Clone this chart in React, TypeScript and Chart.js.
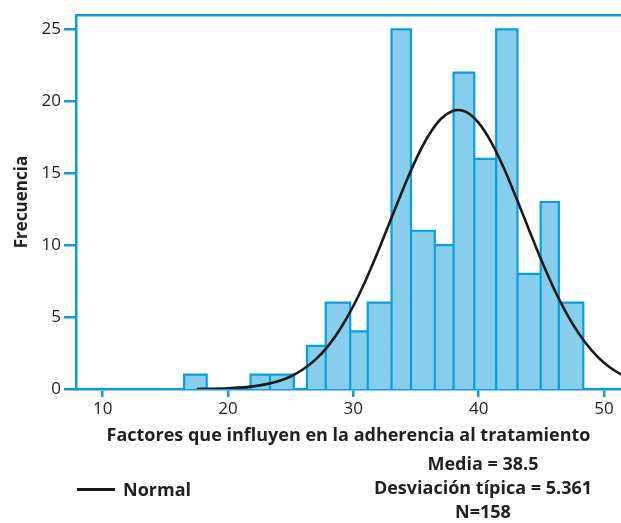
import React, { useEffect, useRef } from "react";
import { Chart, registerables } from "chart.js";

Chart.register(...registerables);

// Histogram bins
const binStart = [16.5, 21.8, 23.35, 26.3, 27.8, 29.75, 31.15, 33.05, 34.6, 36.5, 38.0, 39.65, 41.4, 43.1, 44.95, 46.4];
const binEnd = [18.3, 23.35, 25.25, 27.8, 29.75, 31.15, 33.05, 34.6, 36.5, 38.0, 39.65, 41.4, 43.1, 44.95, 46.4, 48.35];
const counts = [1, 1, 1, 3, 6, 4, 6, 25, 11, 10, 22, 16, 25, 8, 13, 6];

// Normal curve
const normalX = [17.5, 18, 20, 22, 24, 25, 26, 27, 28, 29, 30, 31, 32, 33, 34, 35, 36, 37, 38, 38.35, 39, 40, 41, 42, 43, 44, 45, 46, 47, 48, 49, 50, 51, 52];
const normalY = [0, 0.01, 0.05, 0.18, 0.54, 0.87, 1.37, 2.06, 3.0, 4.24, 5.77, 7.58, 9.62, 11.8, 13.96, 15.96, 17.62, 18.79, 19.36, 19.4, 19.26, 18.5, 17.17, 15.38, 13.29, 11.11, 8.96, 6.99, 5.28, 3.85, 2.7, 1.83, 1.2, 0.76];

const xTicks = [10, 20, 30, 40, 50];
const yTicks = [0, 5, 10, 15, 20, 25];

const xTitle = "Factores que influyen en la adherencia al tratamiento";
const yTitle = "Frecuencia";
const legendLabel = "Normal";
const statLines = ["Media = 38.5", "Desviación típica = 5.361", "N=158"];

const X_MIN = 7.87;
const X_MAX = 51.36;
const Y_MIN = 0;
const Y_MAX = 26;

const BLUE = "#0a9fdc";
const FILL = "#87ceec";
const TEXT = "#231f20";
const FONT = "'Open Sans', sans-serif";

export default function App() {
  const ref = useRef<HTMLCanvasElement | null>(null);

  useEffect(() => {
    const canvas = ref.current;
    if (!canvas) return;

    const histPoints: { x: number; y: number }[] = [];
    for (let i = 0; i < counts.length; i++) {
      histPoints.push({ x: binStart[i], y: 0 });
      histPoints.push({ x: binStart[i], y: counts[i] });
      histPoints.push({ x: binEnd[i], y: counts[i] });
      histPoints.push({ x: binEnd[i], y: 0 });
    }
    const curvePoints = normalX.map((x, i) => ({ x, y: normalY[i] }));

    const chart = new Chart(canvas, {
      type: "line",
      data: {
        datasets: [
          {
            label: "Histograma",
            data: histPoints,
            order: 2,
            xAxisID: "x",
            yAxisID: "y",
            borderColor: BLUE,
            backgroundColor: FILL,
            borderWidth: 2.2,
            borderJoinStyle: "miter",
            fill: "origin",
            pointRadius: 0,
            tension: 0,
          },
          {
            label: legendLabel,
            data: curvePoints,
            order: 1,
            xAxisID: "x",
            yAxisID: "y",
            borderColor: "#1a1a1a",
            borderWidth: 2.6,
            fill: false,
            pointRadius: 0,
            cubicInterpolationMode: "monotone",
          },
        ],
      },
      options: {
        animation: false,
        responsive: false,
        events: [],
        layout: { padding: { top: 15, left: 0, right: 0, bottom: 72 } },
        plugins: {
          legend: { display: false },
          tooltip: { enabled: false },
        },
        scales: {
          x: {
            type: "linear",
            position: "bottom",
            min: X_MIN,
            max: X_MAX,
            afterFit: (s: any) => {
              s.height = 62;
            },
            afterBuildTicks: (s: any) => {
              s.ticks = xTicks.map((v) => ({ value: v }));
            },
            ticks: {
              color: TEXT,
              font: { family: FONT, size: 17 },
              padding: 2,
              maxRotation: 0,
              includeBounds: false,
            },
            grid: {
              drawOnChartArea: false,
              drawTicks: true,
              tickLength: 8,
              color: BLUE,
              lineWidth: 2.5,
            },
            border: { display: true, color: BLUE, width: 2.5 },
            title: {
              display: true,
              text: xTitle,
              color: TEXT,
              font: { family: FONT, size: 18, weight: "bold" },
              padding: { top: 4, bottom: 4 },
            },
          },
          x2: {
            type: "linear",
            position: "top",
            min: X_MIN,
            max: X_MAX,
            afterFit: (s: any) => {
              s.height = 0;
            },
            ticks: { display: false },
            grid: { display: false, drawTicks: false },
            border: { display: true, color: BLUE, width: 2.5 },
          },
          y: {
            type: "linear",
            position: "left",
            min: Y_MIN,
            max: Y_MAX,
            afterFit: (s: any) => {
              s.width = 76;
            },
            afterBuildTicks: (s: any) => {
              s.ticks = yTicks.map((v) => ({ value: v }));
            },
            ticks: {
              color: TEXT,
              font: { family: FONT, size: 17 },
              padding: 3,
              includeBounds: false,
            },
            grid: {
              drawOnChartArea: false,
              drawTicks: true,
              tickLength: 12,
              color: BLUE,
              lineWidth: 2.5,
            },
            border: { display: true, color: BLUE, width: 2.5 },
            title: {
              display: true,
              text: yTitle,
              color: TEXT,
              font: { family: FONT, size: 17, weight: "bold" },
              padding: { top: 12, bottom: 4 },
            },
          },
        },
      } as any,
    });

    return () => {
      chart.destroy();
    };
  }, []);

  return (
    <div
      style={{
        position: "absolute",
        left: 0,
        top: 0,
        width: 621,
        height: 523,
        overflow: "hidden",
        background: "#ffffff",
      }}
    >
      <canvas ref={ref} width={621} height={523} style={{ width: 621, height: 523, display: "block" }} />
      <div
        style={{
          position: "absolute",
          left: 77,
          top: 488,
          width: 38,
          height: 2.5,
          background: "#1a1a1a",
        }}
      />
      <div
        style={{
          position: "absolute",
          left: 123,
          top: 478,
          lineHeight: "22px",
          fontFamily: FONT,
          fontWeight: "bold",
          fontSize: 18,
          color: TEXT,
          whiteSpace: "nowrap",
        }}
      >
        {legendLabel}
      </div>
      <div
        style={{
          position: "absolute",
          left: 333,
          top: 451,
          width: 300,
          textAlign: "center",
          lineHeight: "24px",
          fontFamily: FONT,
          fontWeight: "bold",
          fontSize: 18,
          color: TEXT,
          whiteSpace: "nowrap",
        }}
      >
        {statLines.map((t) => (
          <div key={t}>{t}</div>
        ))}
      </div>
    </div>
  );
}
